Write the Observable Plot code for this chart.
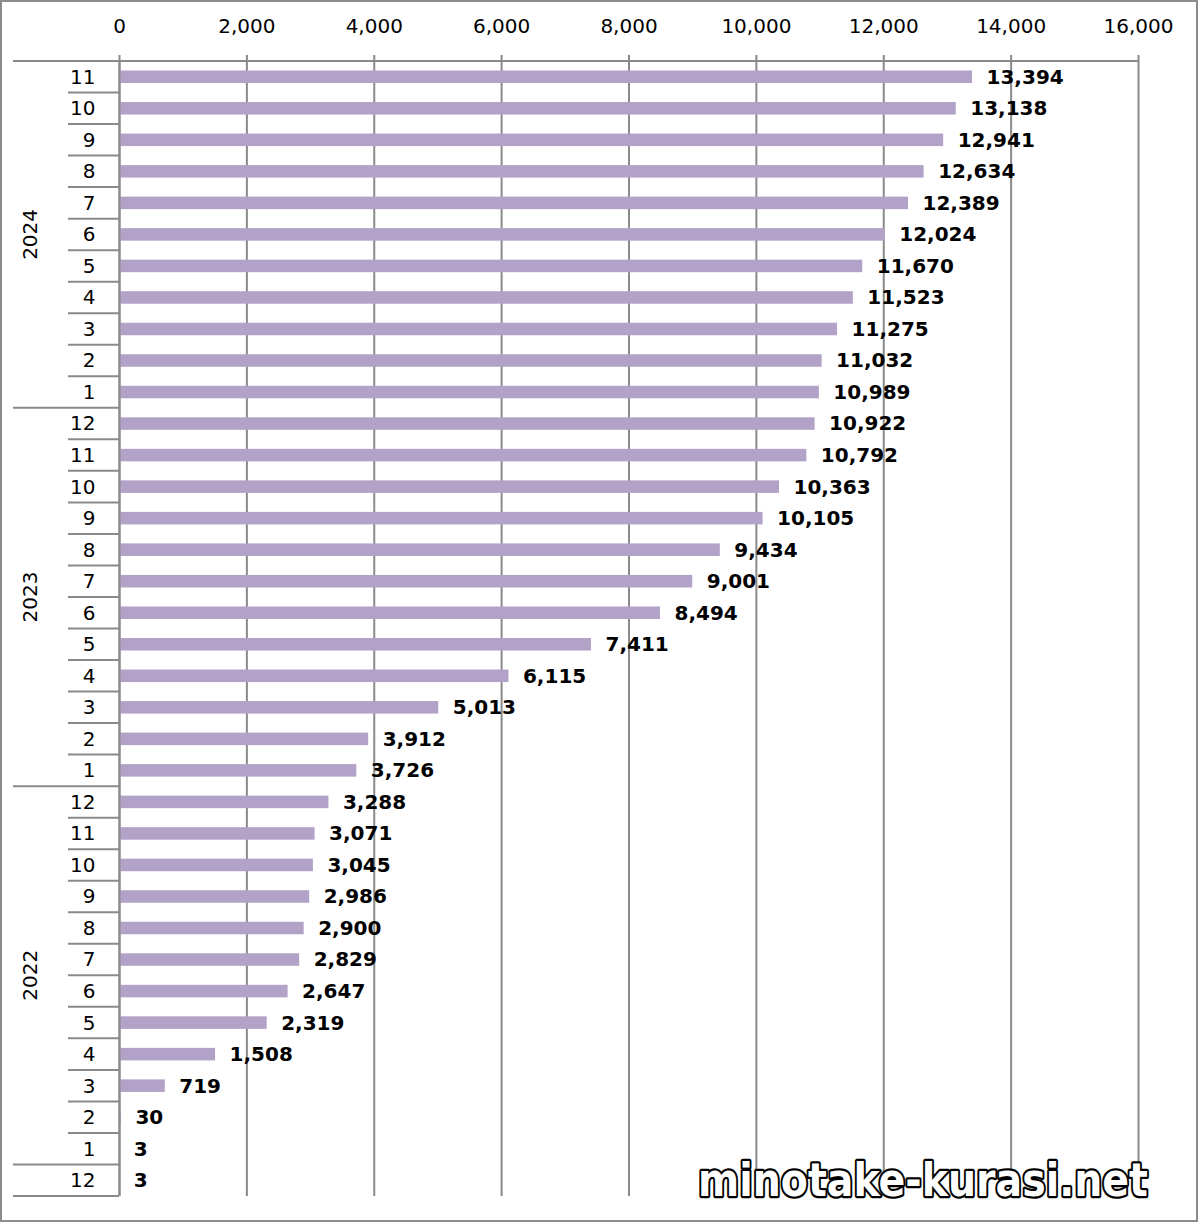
<!DOCTYPE html>
<html><head><meta charset="utf-8">
<script src="https://cdn.jsdelivr.net/npm/d3@7"></script>
<script src="https://cdn.jsdelivr.net/npm/@observablehq/plot@0.6"></script>
<style>
html,body{margin:0;padding:0;background:#fff;}
#wrap{position:relative;width:1200px;height:1222px;overflow:hidden;}
#frame{position:absolute;left:0;top:0;width:1194px;height:1218px;border:2px solid #8c8c8c;pointer-events:none;}
svg{display:block;}
</style></head><body><div id="wrap"><div id="frame"></div></div>
<script>
// chronological order (bottom of chart -> top)
const periodYear = ["2021",
  "2022","2022","2022","2022","2022","2022","2022","2022","2022","2022","2022","2022",
  "2023","2023","2023","2023","2023","2023","2023","2023","2023","2023","2023","2023",
  "2024","2024","2024","2024","2024","2024","2024","2024","2024","2024","2024"];
const periodMonth = ["12",
  "1","2","3","4","5","6","7","8","9","10","11","12",
  "1","2","3","4","5","6","7","8","9","10","11","12",
  "1","2","3","4","5","6","7","8","9","10","11"];
const values = [3,
  3, 30, 719, 1508, 2319, 2647, 2829, 2900, 2986, 3045, 3071, 3288,
  3726, 3912, 5013, 6115, 7411, 8494, 9001, 9434, 10105, 10363, 10792, 10922,
  10989, 11032, 11275, 11523, 11670, 12024, 12389, 12634, 12941, 13138, 13394];
const labeledYears = ["2022", "2023", "2024"];
const xTicks = [0, 2000, 4000, 6000, 8000, 10000, 12000, 14000, 16000];
const watermark = "minotake-kurasi.net";

const data = values.map((v, i) => ({key: periodYear[i] + "-" + periodMonth[i], year: periodYear[i], month: periodMonth[i], value: v}));
const domainTopDown = data.map(d => d.key).reverse();
const monthOf = Object.fromEntries(data.map(d => [d.key, d.month]));
const yearOf = Object.fromEntries(data.map(d => [d.key, d.year]));
const fmt = d3.format(",");
const GRID = "#8a8a8a";

function leftDecor(index, scales, values, dimensions) {
  const y = scales.y;
  const bw = y.bandwidth();
  const x0 = dimensions.marginLeft;
  const g = d3.create("svg:g").attr("stroke", GRID).attr("stroke-width", 2);
  const top = y(domainTopDown[0]);
  g.append("line").attr("x1", 13).attr("x2", dimensions.width - dimensions.marginRight).attr("y1", top).attr("y2", top);
  domainTopDown.forEach((k, i) => {
    const bottom = y(k) + bw;
    const next = domainTopDown[i + 1];
    const long = next === undefined || yearOf[next] !== yearOf[k];
    g.append("line").attr("x1", long ? 13 : 68).attr("x2", x0).attr("y1", bottom).attr("y2", bottom);
  });
  labeledYears.forEach(yr => {
    const ks = domainTopDown.filter(k => yearOf[k] === yr);
    const c = (y(ks[0]) + y(ks[ks.length - 1]) + bw) / 2;
    g.append("text").attr("stroke", "none").attr("fill", "black")
      .attr("font-size", 20).attr("text-anchor", "middle").attr("dy", "0.35em")
      .attr("transform", `translate(30,${c}) rotate(-90)`).text(yr);
  });
  return g.node();
}

const chart = Plot.plot({
  width: 1200, height: 1222,
  marginLeft: 119, marginRight: 62, marginTop: 61, marginBottom: 26,
  x: {domain: [0, 16000], axis: null, label: null},
  y: {domain: domainTopDown, padding: 0, round: false, axis: null, label: null},
  style: {fontFamily: "'DejaVu Sans', Verdana, sans-serif", fontSize: "20px", color: "black", background: "white"},
  marks: [
    Plot.gridX(xTicks, {stroke: GRID, strokeOpacity: 1, strokeWidth: 2}),
    Plot.axisX(xTicks, {anchor: "top", label: null, tickSize: 7, tickPadding: 22, tickFormat: d3.format(","), fontSize: 20, stroke: GRID, strokeWidth: 2, fill: "black"}),
    Plot.barX(data, {x: "value", y: "key", fill: "#b3a2c7", insetTop: 9.5, insetBottom: 9.5}),
    Plot.text(data, {x: "value", y: "key", text: d => fmt(d.value), textAnchor: "start", dx: 14, fontWeight: "bold", fontSize: 20, fill: "black"}),
    Plot.axisY({label: null, tickSize: 0, tickPadding: 24, tickFormat: k => monthOf[k], fontSize: 20, fill: "black"}),
    Plot.ruleX([0], {stroke: GRID, strokeWidth: 2}),
    leftDecor
  ]
});

d3.select(chart).append("text")
  .attr("x", 1148).attr("y", 1196).attr("text-anchor", "end")
  .attr("font-family", "'DejaVu Sans', sans-serif").attr("font-weight", "bold").attr("font-size", 46)
  .attr("textLength", 450).attr("lengthAdjust", "spacingAndGlyphs")
  .attr("fill", "white").attr("stroke", "black").attr("stroke-width", 4.5)
  .attr("stroke-linejoin", "round").attr("paint-order", "stroke")
  .text(watermark);

document.getElementById("wrap").insertBefore(chart, document.getElementById("frame"));
</script></body></html>
